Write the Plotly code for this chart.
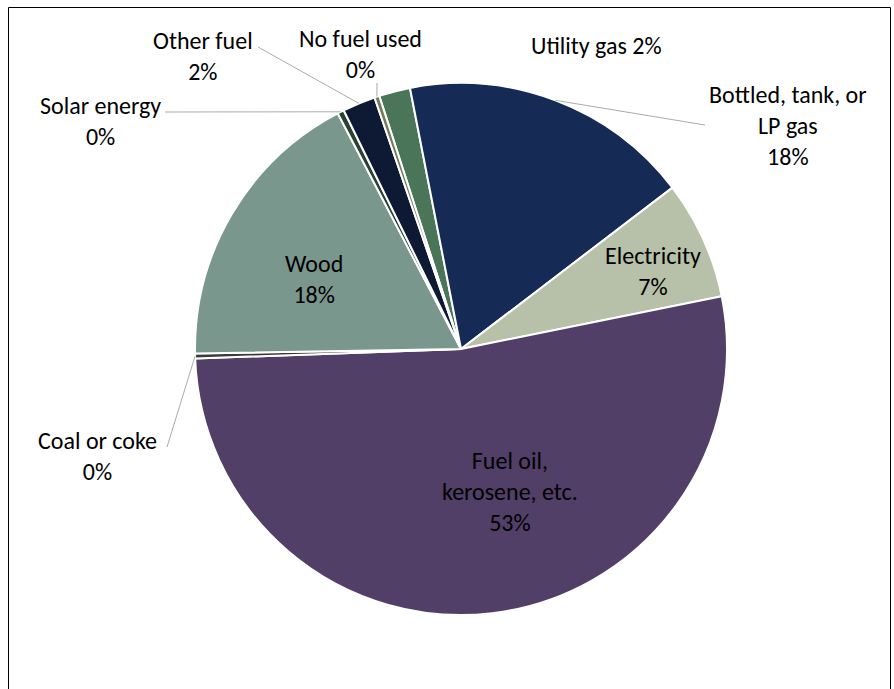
import math
import plotly.graph_objects as go

# ---- data ----
labels = ["Utility gas", "Bottled, tank, or LP gas", "Electricity",
          "Fuel oil, kerosene, etc.", "Coal or coke", "Wood",
          "Solar energy", "Other fuel", "No fuel used"]
values = [1.9, 17.7, 7.2, 52.6, 0.3, 17.6, 0.4, 2.0, 0.3]
label_lines = ["Utility gas", "Bottled, tank, or<br>LP gas", "Electricity",
               "Fuel oil,<br>kerosene, etc.", "Coal or coke", "Wood",
               "Solar energy", "Other fuel", "No fuel used"]
label_sep = [" ", "<br>", "<br>", "<br>", "<br>", "<br>", "<br>", "<br>", "<br>"]
colors = ["#4a7558", "#152a55", "#b7c0a8", "#523f67", "#3a3a3a",
          "#7a978e", "#2a4231", "#0e1a34", "#727c5c"]

# ---- layout constants (pixels) ----
W, H = 894, 689
CX, CY, R = 461, 349, 266
ROT = -17.9  # start angle of first slice, clockwise from 12 o'clock

# label centers in pixels
label_pos = [(596, 45), (788, 126), (653, 271), (510, 491), (97, 456),
             (314, 279), (100, 121), (203, 56), (360, 54)]
# leader line anchor (label end) in pixels, None = no leader
leader_from = [None, (705, 125), None, None, (167, 447), None,
               (165, 112), (258, 47), (377, 83)]


def px(x):
    return x / W


def py(y):
    return 1 - y / H


total = sum(values)
pcts = [round(v / total * 100) for v in values]

fig = go.Figure(go.Pie(
    labels=labels, values=values, sort=False, direction="clockwise",
    rotation=ROT, textinfo="none", hoverinfo="label+percent",
    marker=dict(colors=colors, line=dict(color="white", width=2)),
    domain=dict(x=[px(CX - R), px(CX + R)], y=[py(CY + R), py(CY - R)]),
    showlegend=False,
))

font = dict(family="Carlito, Calibri, Lato, sans-serif", size=24, color="#000000")
annotations = []
shapes = []
cum = 0.0
for i, v in enumerate(values):
    mid = ROT + (cum + v / 2) / total * 360
    cum += v
    lx, ly = label_pos[i]
    annotations.append(dict(
        x=px(lx), y=py(ly), xref="paper", yref="paper",
        text=f"{label_lines[i]}{label_sep[i]}{pcts[i]}%",
        showarrow=False, xanchor="center", yanchor="middle",
        align="center", font=font))
    if leader_from[i] is not None:
        a = math.radians(mid)
        ex = CX + R * math.sin(a)
        ey = CY - R * math.cos(a)
        fx, fy = leader_from[i]
        shapes.append(dict(type="line", xref="paper", yref="paper",
                           x0=px(fx), y0=py(fy), x1=px(ex), y1=py(ey),
                           line=dict(color="#a6aea8", width=1)))

shapes.append(dict(type="rect", xref="paper", yref="paper",
                   x0=px(8.5), x1=px(890.5), y0=py(7.5), y1=py(720),
                   line=dict(color="#000000", width=1), layer="below"))

fig.update_layout(
    width=W, height=H, margin=dict(l=0, r=0, t=0, b=0),
    paper_bgcolor="white", plot_bgcolor="white",
    annotations=annotations, shapes=shapes,
)

fig.write_html("out.html")
